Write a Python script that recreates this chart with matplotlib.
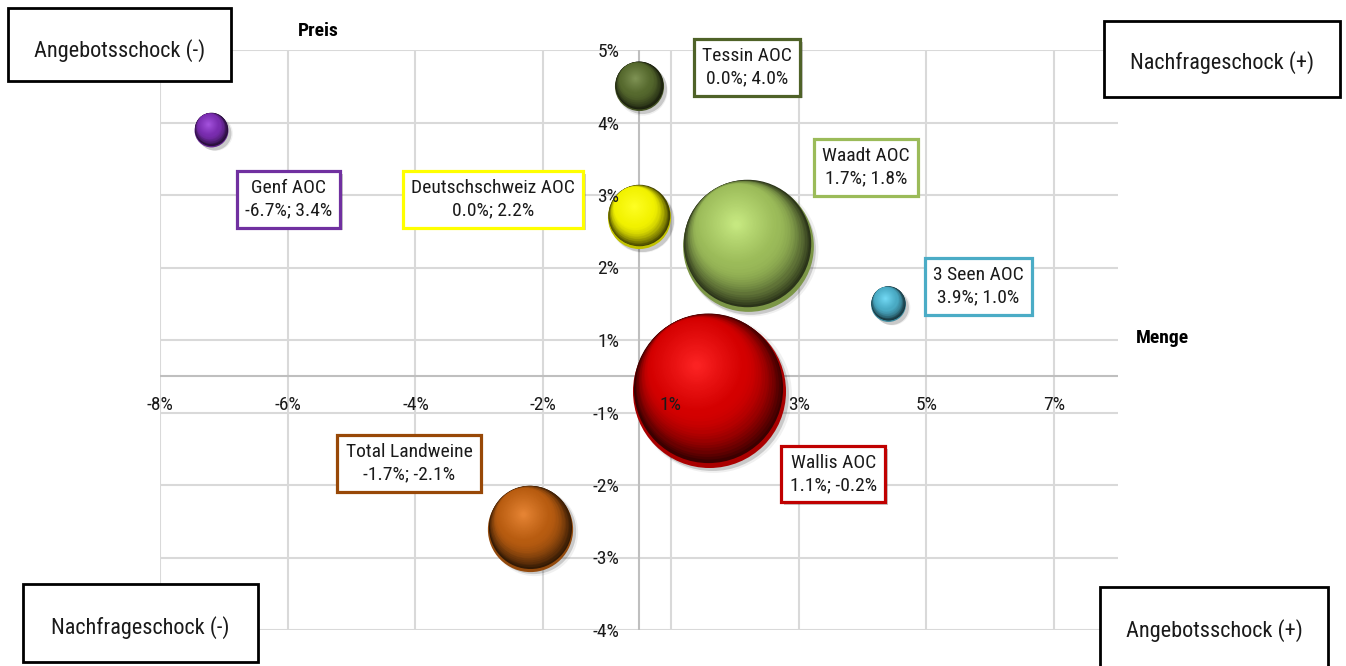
import numpy as np
import matplotlib
matplotlib.use('Agg')
import matplotlib.pyplot as plt
from matplotlib import transforms, patheffects
from matplotlib.colors import to_rgb
from matplotlib.patches import Rectangle

# Veränderung Menge / Preis gegenüber Vorjahr (in %) und relative Blasengrösse
regionen = ['Genf AOC', 'Deutschschweiz AOC', 'Tessin AOC', 'Waadt AOC',
            '3 Seen AOC', 'Wallis AOC', 'Total Landweine']
menge = [-6.7, 0.0, 0.0, 1.7, 3.9, 1.1, -1.7]
preis = [3.4, 2.2, 4.0, 1.8, 1.0, -0.2, -2.1]
volumen = [4.9, 17, 10.3, 73, 5.2, 100, 31]

x_ticks = [-7.5, -5.5, -3.5, -1.5, 0.5, 2.5, 4.5, 6.5]
y_ticks = [-3.5, -2.5, -1.5, -0.5, 0.5, 1.5, 2.5, 3.5, 4.5]

# styles
rahmen = ['#7030A0', '#FFFF00', '#4F6228', '#9BBB59', '#4BACC6', '#C00000', '#984807']
kugel_farben = ['#7A2DB0', '#F2F200', '#56692E', '#9BBB59', '#4BACC6', '#D40000', '#B85C10']
label_x = [-5.49, -2.28, 1.69, 3.55, 5.31, 3.04, -3.60]
label_y = [2.44, 2.44, 4.26, 2.88, 1.24, -1.35, -1.20]

plt.rcParams['font.family'] = ['Roboto Condensed', 'Liberation Sans Narrow', 'DejaVu Sans']

W, H = 1346, 666
fig = plt.figure(figsize=(W / 100, H / 100), dpi=100, facecolor='white')
ax = fig.add_axes([160 / W, 36 / H, 958 / W, 580 / H])


def mix(a, b, t):
    return a + (b - a) * t


def kugel(x, y, s, farbe, n=45):
    """Zeichnet eine schattierte Kugel aus gestapelten Kreisen."""
    r = np.sqrt(s) / 2
    base = np.array(to_rgb(farbe))
    dark = base * 0.28
    light = np.clip(base * 1.25, 0, 1) * 0.85 + 0.15
    rim = base * 0.8
    u = np.array([-0.45, 0.89])
    u = u / np.hypot(*u)
    h = 0.38 * r

    def versatz(dx, dy):
        return ax.transData + transforms.ScaledTranslation(dx / 72, dy / 72, fig.dpi_scale_trans)

    # weicher Schatten unten rechts
    ax.scatter([x], [y], s=s * 1.05, color='k', alpha=0.06, lw=0,
               transform=versatz(2.5, -2.5), zorder=2)
    ax.scatter([x], [y], s=s, color='k', alpha=0.16, lw=0,
               transform=versatz(2, -2), zorder=2)
    # Reflex am unteren Rand
    ax.scatter([x], [y], s=s, color=rim, lw=0, zorder=2)
    for i in range(n):
        q = 0.975 - i / (n - 1) * (0.975 - 0.05)
        rt = q * r
        d = min(0.93 * (r - rt), h)
        ox, oy = u * d
        oy += 0.02 * r * (1 - i / (n - 1))
        if q > 0.62:
            c = mix(base, dark, ((q - 0.62) / 0.355) ** 1.8)
        else:
            c = mix(light, base, (q / 0.62) ** 0.9)
        ax.scatter([x], [y], s=(2 * rt) ** 2, color=np.clip(c, 0, 1), lw=0,
                   transform=versatz(ox, oy), zorder=2)


# Gitter und Achsenlinien unter den Kugeln
for v in x_ticks:
    ax.axvline(v, color='#d9d9d9', lw=1.5, zorder=0.5)
for v in y_ticks:
    ax.axhline(v, color='#d9d9d9', lw=1.5, zorder=0.5)
ax.axhline(0, color='#bfbfbf', lw=1.5, zorder=0.6)
ax.axvline(0, color='#bfbfbf', lw=1.5, zorder=0.6)

# Blasen: grösste zuerst
skala = 121.4
for i in np.argsort(volumen)[::-1]:
    kugel(menge[i], preis[i], volumen[i] * skala, kugel_farben[i])

# Beschriftungen
for i, name in enumerate(regionen):
    t = ax.text(label_x[i], label_y[i], f'{name}\n{menge[i]:.1f}%; {preis[i]:.1f}%',
                ha='center', va='center', fontsize=14, linespacing=1.3, color='#1a1a1a',
                bbox=dict(boxstyle='square,pad=0.42', fc='white', ec=rahmen[i], lw=2.3),
                zorder=5)
    t.get_bbox_patch().set_path_effects([
        patheffects.SimplePatchShadow(offset=(2, -2), alpha=0.3), patheffects.Normal()])

ax.set_xlim(-7.5, 7.5)
ax.set_ylim(-3.5, 4.5)
ax.set_xticks(x_ticks)
ax.set_yticks(y_ticks)


def prozent(v, pos=None):
    return f'{int(np.sign(v) * np.floor(abs(v) + 0.5))}%'


ax.xaxis.set_major_formatter(prozent)
ax.yaxis.set_major_formatter(prozent)
ax.spines[['top', 'right']].set_visible(False)
for s in ['left', 'bottom']:
    ax.spines[s].set_position('zero')
    ax.spines[s].set_color('none')
ax.tick_params(length=0, pad=14, labelsize=14, labelcolor='#1a1a1a')
ax.set_axisbelow(False)
ax.set_facecolor('white')

fig.text(318 / W, 1 - 31 / H, 'Preis', ha='center', va='center', fontsize=14, fontweight='bold')
fig.text(1162 / W, 1 - 338 / H, 'Menge', ha='center', va='center', fontsize=14, fontweight='bold')

# Schock-Kästen in den Ecken (Pixel: links, oben, rechts, unten)
ecken = [('Angebotsschock (-)', 8, 8, 231, 81, 51),
         ('Nachfrageschock (+)', 1104, 21, 1340, 97, 63),
         ('Nachfrageschock (-)', 23, 584, 258, 662, 628),
         ('Angebotsschock (+)', 1100, 587, 1328, 672, 631)]
for text, x0, y0, x1, y1, ty in ecken:
    fig.add_artist(Rectangle((x0 / W, 1 - y1 / H), (x1 - x0) / W, (y1 - y0) / H,
                             transform=fig.transFigure, fc='white', ec='black', lw=2, zorder=6))
    fig.text((x0 + x1) / 2 / W, 1 - ty / H, text, ha='center', va='center',
             fontsize=16, color='#1a1a1a', zorder=7)

fig.savefig('out.png', dpi=100, facecolor='white')
